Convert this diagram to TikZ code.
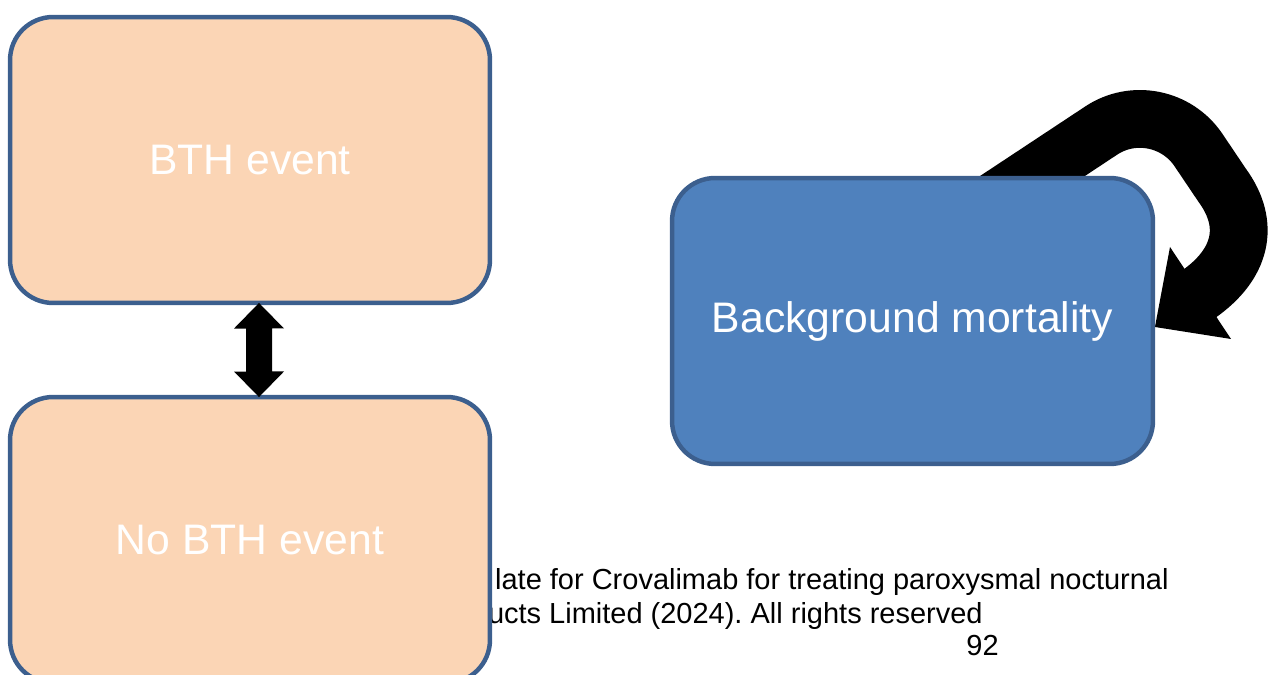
\documentclass[tikz,border=0pt]{standalone}
\usepackage{fontspec}
\setmainfont{Liberation Sans}
\usetikzlibrary{calc}
\definecolor{peach}{HTML}{FBD5B5}
\definecolor{edgeblue}{HTML}{3C5F8E}
\definecolor{boxblue}{HTML}{4F81BD}
\pgfdeclarelayer{bg}
\pgfsetlayers{bg,main}
\frenchspacing
\begin{document}
\begin{tikzpicture}[x=0.02cm,y=-0.02cm,
  box/.style={draw=edgeblue, line width=2.55pt, rounded corners=0.86cm,
    minimum width=9.6cm, minimum height=5.72cm, inner sep=0pt, outer sep=0pt,
    text=white, font=\fontsize{24.3}{28}\selectfont},
  footer/.style={anchor=base east, inner sep=0pt, font=\fontsize{16.5}{19}\selectfont},
  loopband/.style={line width=32.9pt, draw=black}]
\useasboundingbox (0,0) rectangle (1272,675);
\node[box, fill=peach] (bth) at (250,160) {BTH event};
\node[box, fill=peach] (nobth) at (250,540) {No BTH event};
\node[box, fill=boxblue, minimum width=9.62cm] (bm) at (912.5,321) {Background mortality};
\begin{pgfonlayer}{bg}
  \node[footer] (f1) at (1169,589) {late for Crovalimab for treating paroxysmal nocturnal};
  \node[footer] (f2) at (983,623) {ucts Limited (2024). All rights reserved};
  \node[footer] (f3) at (999,655) {92};
  \coordinate (ls) at ($(bm.north)+(70,31)$);
  \coordinate (le) at ($(bm.east)+(46,-27)$);
  \coordinate (lt) at ($(bm.east)+(2,6)$);
  \draw[loopband] (ls) -- (1101,130.7) .. controls (1133,109.3) and (1176.6,117.9) .. (1198.3,149.8)
     -- (1222,185) .. controls (1252,226) and (1240,265) .. (le);
  \fill[black] (lt) -- (1170,247) -- (1231,339) -- cycle;
\end{pgfonlayer}
\fill[black] ($(bth.south)+(9,0)$) -- ++(25,25.5) -- ++(-12,0) -- ++(0,43) -- ++(12,0)
  -- ($(nobth.north)+(9,0)$) -- ++(-25,-25.5) -- ++(12,0) -- ++(0,-43) -- ++(-12,0) -- cycle;
\end{tikzpicture}
\end{document}
